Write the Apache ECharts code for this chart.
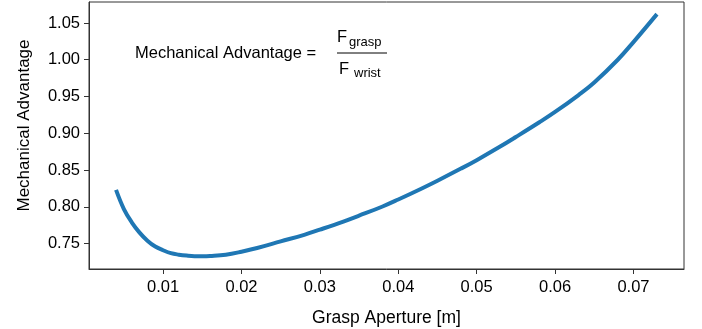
<!DOCTYPE html>
<html><head><meta charset="utf-8">
<script src="https://cdn.jsdelivr.net/npm/echarts@6/dist/echarts.min.js"></script>
<style>html,body{margin:0;padding:0;background:#fff}#c{width:702px;height:329px}</style>
</head><body><div id="c"></div>
<script>
const aperture = [0.004,0.005,0.006,0.007,0.008,0.009,0.010,0.011,0.012,0.013,0.014,0.015,0.016,0.018,0.020,0.022,0.025,0.028,0.030,0.033,0.035,0.038,0.040,0.043,0.045,0.048,0.050,0.053,0.055,0.058,0.060,0.063,0.065,0.068,0.070,0.073];
const mechAdv = [0.823,0.797,0.779,0.765,0.754,0.746,0.741,0.737,0.735,0.7337,0.733,0.733,0.7333,0.735,0.739,0.744,0.753,0.762,0.769,0.780,0.788,0.8005,0.810,0.825,0.8355,0.852,0.8635,0.882,0.895,0.915,0.929,0.952,0.969,1.000,1.024,1.062];
const xTicks = [0.01,0.02,0.03,0.04,0.05,0.06,0.07];
const yTicks = [0.75,0.80,0.85,0.90,0.95,1.00,1.05];
const FONT = 'Liberation Sans, Arial, Helvetica, sans-serif';
const chart = echarts.init(document.getElementById('c'));
chart.setOption({
  animation:false,
  grid:{left:89,right:18,top:2,bottom:60,outerBoundsMode:'none',containLabel:false,show:true,borderColor:'#333',borderWidth:1,backgroundColor:'transparent'},
  xAxis:{type:'value',min:0.00055,max:0.07645,
    name:'Grasp Aperture [m]',nameLocation:'middle',nameGap:40,
    nameTextStyle:{fontFamily:FONT,fontSize:17.5,color:'#000'},
    axisLine:{show:true,lineStyle:{color:'#333',width:1}},
    axisTick:{show:true,length:5,customValues:xTicks,lineStyle:{color:'#333'}},
    axisLabel:{customValues:xTicks,fontFamily:FONT,fontSize:16.5,color:'#000',margin:10,formatter:v=>v.toFixed(2)},
    splitLine:{show:false}},
  yAxis:{type:'value',min:0.7155,max:1.0785,
    name:'Mechanical Advantage',nameLocation:'middle',nameGap:56,
    nameTextStyle:{fontFamily:FONT,fontSize:17,color:'#000',padding:[0,0,0,20]},
    axisLine:{show:true,lineStyle:{color:'#333',width:1}},
    axisTick:{show:true,length:5,customValues:yTicks,lineStyle:{color:'#333'}},
    axisLabel:{customValues:yTicks,fontFamily:FONT,fontSize:16.5,color:'#000',margin:9,formatter:v=>v.toFixed(2)},
    splitLine:{show:false}},
  series:[{type:'line',data:aperture.map((x,i)=>[x,mechAdv[i]]),smooth:0.4,showSymbol:false,
    lineStyle:{color:'#1f77b4',width:4},itemStyle:{color:'#1f77b4'}}],
  graphic:[
    {type:'text',left:135,top:45,style:{text:'Mechanical Advantage =',font:'16.5px '+FONT,fill:'#000'}},
    {type:'text',left:337,top:29,style:{text:'F',font:'16.5px '+FONT,fill:'#000'}},
    {type:'text',left:349,top:36,style:{text:'grasp',font:'13px '+FONT,fill:'#000'}},
    {type:'line',shape:{x1:337,y1:53,x2:387,y2:53},style:{stroke:'#000',lineWidth:1}},
    {type:'text',left:339,top:61,style:{text:'F',font:'16.5px '+FONT,fill:'#000'}},
    {type:'text',left:354,top:67,style:{text:'wrist',font:'13px '+FONT,fill:'#000'}}
  ]
});
</script></body></html>
